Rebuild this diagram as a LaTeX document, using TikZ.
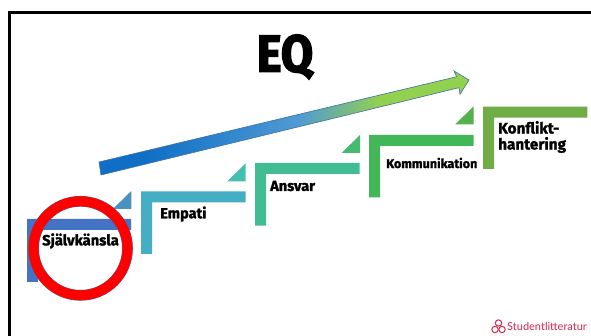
\documentclass[tikz,border=0pt]{standalone}
\usepackage{fontspec}
\setmainfont{Fira Sans}[BoldFont={Fira Sans Bold},BoldFeatures={FakeBold=1.6}]
\newfontfamily\logofont{Lato}
\newfontfamily\titlefont{Fira Sans Bold}[FakeBold=3]
\definecolor{blue0}{HTML}{0F6FC6}
\definecolor{blue1}{HTML}{4F9AD4}
\definecolor{green1}{HTML}{92D050}
\definecolor{edgeblue}{HTML}{41719C}
\definecolor{c1}{HTML}{4472C4}
\definecolor{c2}{HTML}{46AEC4}
\definecolor{c3}{HTML}{42BC92}
\definecolor{c4}{HTML}{43B757}
\definecolor{c5}{HTML}{70AD47}
\definecolor{t1}{HTML}{4A90C0}
\definecolor{t2}{HTML}{45BFB0}
\definecolor{t3}{HTML}{45BB72}
\definecolor{t4}{HTML}{55B04E}
\definecolor{logored}{HTML}{D8274F}
\pgfdeclarehorizontalshading{arrowgrad}{100bp}{color(0bp)=(blue0);color(30bp)=(blue0);color(52bp)=(blue1);color(64bp)=(green1);color(100bp)=(green1)}
\newcommand{\stepbar}[6]{%
  \fill[#6] (#1,#2) -| (#3,#2+11) -| (#1+11,#4) -| cycle;}
\newcommand{\stepcorner}[3]{%
  \fill[#3] (#1,#2) -- (#1,#2+18) -- (#1-18.5,#2+18) -- cycle;}
\tikzset{lab/.style={font=\bfseries\fontsize{14.6}{16}\selectfont,inner sep=0pt,align=left,text=black}}
\begin{document}
\begin{tikzpicture}[x=1pt,y=-1pt]
\useasboundingbox (0,0) rectangle (591,336);
\fill[white] (0,0) rectangle (591,336);
\draw[line width=3pt] (9.5,336) -- (9.5,12.5) -- (591,12.5);
% steps
\stepbar{27}{219}{131}{282}{}{c1}
\stepbar{141}{191.5}{245.5}{254}{}{c2}
\stepbar{255}{163}{359.5}{225.7}{}{c3}
\stepbar{369}{135}{473.5}{197.3}{}{c4}
\stepbar{483}{106.7}{587.3}{169}{}{c5}
\stepcorner{131.3}{191}{t1}
\stepcorner{245.5}{163.5}{t2}
\stepcorner{360}{135}{t3}
\stepcorner{473.5}{106.5}{t4}
% arrow
\path[shading=arrowgrad,shading angle=-13]
  (99,162) -- (456.7,76.7) -- (454,71) -- (469,80) -- (460,94.3) -- (459,87.7) -- (101,175) -- cycle;
\draw[draw=edgeblue,line width=.6pt]
  (99,162) -- (456.7,76.7) -- (454,71) -- (469,80) -- (460,94.3) -- (459,87.7) -- (101,175) -- cycle;
% ring
\draw[draw=edgeblue,line width=10.7pt] (80.5,248.3) circle[radius=47];
\draw[draw=red,line width=10pt] (80.5,248.3) circle[radius=47];
% text
\node[font=\titlefont\fontsize{52}{52}\selectfont,inner sep=0pt,xscale=.9] (eq) at (285,57) {EQ};
\node[lab,anchor=center,font=\bfseries\fontsize{14.8}{16}\selectfont] (sjalv) at (80.5,241) {Självkänsla};
\node[lab,anchor=west] (empati) at (160,214) {Empati};
\node[lab,anchor=west] (ansvar) at (270,186) {Ansvar};
\node[lab,anchor=west,font=\bfseries\fontsize{12.6}{14}\selectfont] (komm) at (386,163) {Kommunikation};
\node[lab,anchor=west,font=\bfseries\fontsize{15.3}{16}\selectfont] (konf) at (498,137) {Konflikt-\\hantering};
% logo
\node[anchor=west,inner sep=0pt,text=logored,font=\logofont\fontsize{11}{14}\selectfont] (logo) at (507,326.5) {Studentlitteratur};
\begin{scope}[draw=logored,line width=1pt]
\draw (498.5,323) circle[radius=3.2];
\draw (495,329.5) circle[radius=3.2];
\draw (502,329.5) circle[radius=3.2];
\end{scope}
\end{tikzpicture}
\end{document}
